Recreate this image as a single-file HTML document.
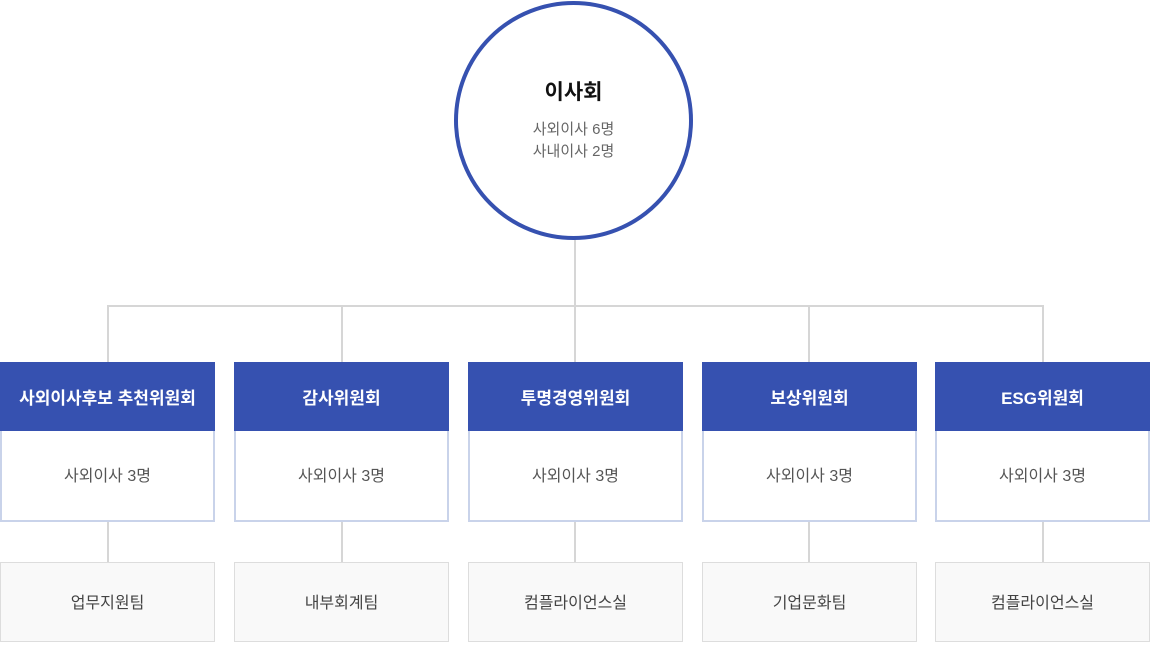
<!DOCTYPE html>
<html><head><meta charset="utf-8"><style>
*{margin:0;padding:0;box-sizing:border-box}
body{width:1150px;height:642px;background:#fff;position:relative;overflow:hidden;font-family:"Liberation Sans","Noto Sans CJK KR",sans-serif}
.l{position:absolute;background:#d6d6d6}
.circle{position:absolute;left:454px;top:1px;width:239px;height:239px;border:4px solid #3651b0;border-radius:50%;background:#fff;text-align:center}
.h{position:absolute;top:362px;height:70px;background:#3651b0;color:#fff;font-weight:bold;font-size:17px;line-height:73px;text-align:center}
.b{position:absolute;top:431px;height:91px;border:2px solid #c9d3ea;border-top:none;background:#fff;color:#555;font-size:16px;line-height:92px;text-align:center}
.c{position:absolute;top:562px;height:80px;border:1px solid #ddd;background:#f9f9f9;color:#444;font-size:16px;line-height:82px;text-align:center}
</style></head><body>
<div class="l" style="left:574px;top:238px;width:2px;height:69px"></div>
<div class="l" style="left:107px;top:305px;width:937px;height:2px"></div>
<div class="l" style="left:107px;top:306px;width:2px;height:56px"></div>
<div class="l" style="left:341px;top:306px;width:2px;height:56px"></div>
<div class="l" style="left:574px;top:306px;width:2px;height:56px"></div>
<div class="l" style="left:808px;top:306px;width:2px;height:56px"></div>
<div class="l" style="left:1042px;top:306px;width:2px;height:56px"></div>
<div class="l" style="left:107px;top:521px;width:2px;height:41px"></div>
<div class="l" style="left:341px;top:521px;width:2px;height:41px"></div>
<div class="l" style="left:574px;top:521px;width:2px;height:41px"></div>
<div class="l" style="left:808px;top:521px;width:2px;height:41px"></div>
<div class="l" style="left:1042px;top:521px;width:2px;height:41px"></div>
<div class="circle">
<div style="position:absolute;top:71px;width:100%;font-size:21px;font-weight:bold;color:#111">이사회</div>
<div style="position:absolute;top:114px;width:100%;font-size:15px;color:#666;line-height:22px">사외이사 6명<br>사내이사 2명</div>
</div>
<div class="h" style="left:0;width:215px">사외이사후보 추천위원회</div>
<div class="h" style="left:234px;width:215px">감사위원회</div>
<div class="h" style="left:468px;width:215px">투명경영위원회</div>
<div class="h" style="left:702px;width:215px">보상위원회</div>
<div class="h" style="left:935px;width:215px">ESG위원회</div>
<div class="b" style="left:0;width:215px">사외이사 3명</div>
<div class="b" style="left:234px;width:215px">사외이사 3명</div>
<div class="b" style="left:468px;width:215px">사외이사 3명</div>
<div class="b" style="left:702px;width:215px">사외이사 3명</div>
<div class="b" style="left:935px;width:215px">사외이사 3명</div>
<div class="c" style="left:0;width:215px">업무지원팀</div>
<div class="c" style="left:234px;width:215px">내부회계팀</div>
<div class="c" style="left:468px;width:215px">컴플라이언스실</div>
<div class="c" style="left:702px;width:215px">기업문화팀</div>
<div class="c" style="left:935px;width:215px">컴플라이언스실</div>
</body></html>
